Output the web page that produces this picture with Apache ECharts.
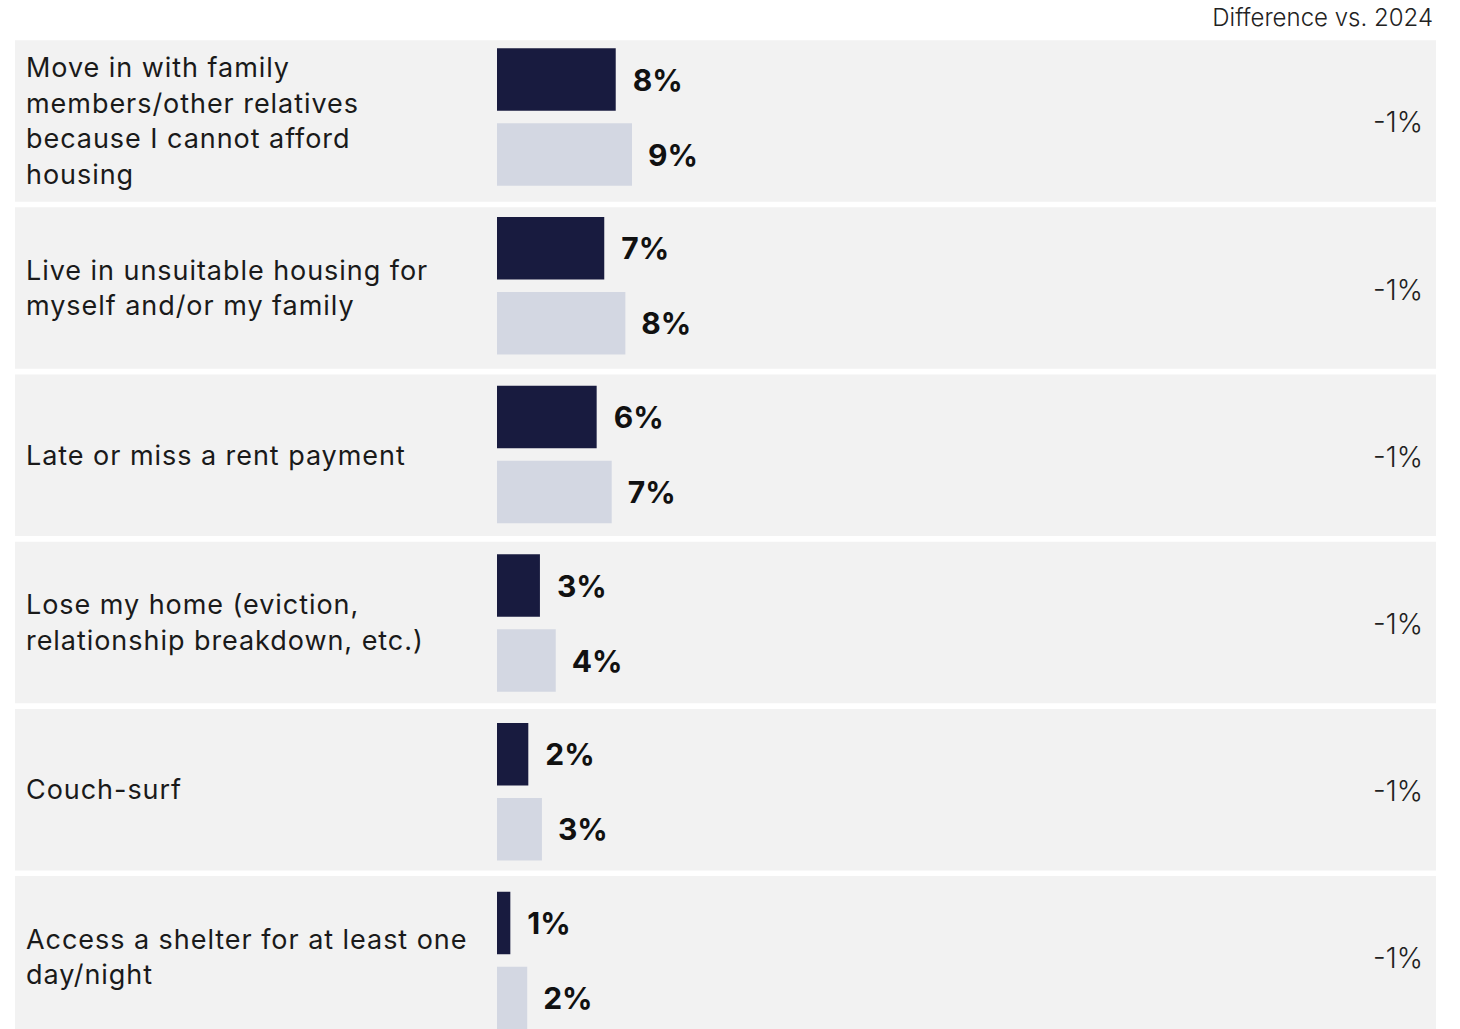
<!DOCTYPE html>
<html>
<head>
<meta charset="utf-8">
<script src="https://cdn.jsdelivr.net/npm/echarts@6/dist/echarts.min.js"></script>
<style>
html,body{margin:0;padding:0;background:#fff;}
#chart{width:1460px;height:1029px;}
#chart text[style*="Noto"], #chart text[font-family*="Noto"] { letter-spacing: 0.95px; }
</style>
</head>
<body>
<div id="chart"></div>
<script>
const categories = [
  "Move in with family\nmembers/other relatives\nbecause I cannot afford\nhousing",
  "Live in unsuitable housing for\nmyself and/or my family",
  "Late or miss a rent payment",
  "Lose my home (eviction,\nrelationship breakdown, etc.)",
  "Couch-surf",
  "Access a shelter for at least one\nday/night"
];
const values2025 = [7.66, 6.92, 6.43, 2.77, 2.02, 0.86];
const values2024 = [8.71, 8.28, 7.40, 3.79, 2.90, 1.95];
const differences = ["-1%", "-1%", "-1%", "-1%", "-1%", "-1%"];
const headerText = "Difference vs. 2024";

const FONT = "Inter, sans-serif";
const CAT_FONT = "Inter, 'Noto Sans', sans-serif";
const chart = echarts.init(document.getElementById('chart'), null, {renderer: 'svg'});

chart.setOption({
  animation: false,
  backgroundColor: '#ffffff',
  graphic: [{
    type: 'text',
    right: 27,
    top: 5,
    style: { text: headerText, font: "300 24px " + FONT, fill: '#222222', textAlign: 'right' }
  }],
  grid: [
    { left: 497, right: 33, top: 32.65, height: 1012.2, outerBoundsMode: 'none', containLabel: false },
    { left: 15, right: 24, top: 37.3, height: 1003.1, outerBoundsMode: 'none', containLabel: false }
  ],
  xAxis: [
    { gridIndex: 0, type: 'value', min: 0, max: 60, show: false },
    { gridIndex: 1, type: 'value', min: 0, max: 1, show: false }
  ],
  yAxis: [
    {
      gridIndex: 0, type: 'category', inverse: true, data: categories, show: false
    },
    {
      gridIndex: 1, type: 'category', inverse: true, data: categories, z: 5,
      axisLine: {show: false}, axisTick: {show: false}, splitLine: {show: false},
      axisLabel: {
        align: 'left', margin: -11, fontSize: 27, lineHeight: 35.5,
        color: '#1a1a1a', fontFamily: CAT_FONT, fontWeight: 400
      }
    }
  ],
  series: [
    {
      name: 'band', type: 'bar', xAxisIndex: 1, yAxisIndex: 1, z: 1,
      data: categories.map(() => 1),
      barWidth: 161.5, silent: true,
      itemStyle: { color: '#f2f2f2' },
      label: {
        show: true, position: 'insideRight', distance: 13, offset: [0, 1.5],
        formatter: p => differences[p.dataIndex],
        fontSize: 28, fontFamily: FONT, fontWeight: 300, color: '#222222'
      }
    },
    {
      name: '2025', type: 'bar', xAxisIndex: 0, yAxisIndex: 0, z: 3,
      data: values2025, barWidth: 62.5, barGap: '20%',
      itemStyle: { color: '#181b3f' },
      label: {
        show: true, position: 'right', distance: 17,
        formatter: p => Math.round(p.value) + '%',
        fontSize: 30, fontFamily: FONT, fontWeight: 700, color: '#111111'
      }
    },
    {
      name: '2024', type: 'bar', xAxisIndex: 0, yAxisIndex: 0, z: 3,
      data: values2024, barWidth: 62.5, barGap: '20%',
      itemStyle: { color: '#d3d7e2' },
      label: {
        show: true, position: 'right', distance: 16,
        formatter: p => Math.round(p.value) + '%',
        fontSize: 30, fontFamily: FONT, fontWeight: 700, color: '#111111'
      }
    }
  ]
});
</script>
</body>
</html>
